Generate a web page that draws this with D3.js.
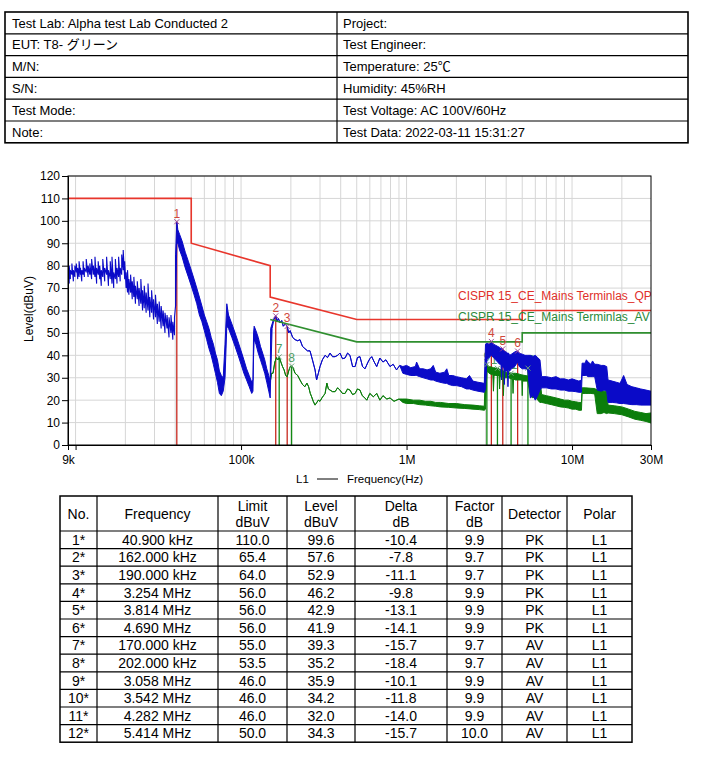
<!DOCTYPE html>
<html>
<head>
<meta charset="utf-8">
<script src="https://cdn.jsdelivr.net/npm/d3@7"></script>
<style>
  body { margin: 0; background: #fff; }
  text { font-family: "Liberation Sans", Arial, "Noto Sans CJK JP", sans-serif; fill: #000; }
</style>
</head>
<body>
<svg id="page" width="703" height="763"></svg>
<script>
'use strict';

// header block
var infoLeft = ["Test Lab: Alpha test Lab Conducted 2", "EUT: T8- グリーン", "M/N:", "S/N:", "Test Mode:", "Note:"];
var infoRight = ["Project:", "Test Engineer:", "Temperature: 25℃", "Humidity: 45%RH", "Test Voltage: AC 100V/60Hz", "Test Data: 2022-03-11 15:31:27"];

// axis ticks
var yTicks = [0, 10, 20, 30, 40, 50, 60, 70, 80, 90, 100, 110, 120];
var xTicks = [9e3, 1e4, 1e5, 1e6, 1e7, 3e7];
var xTickLabels = ["9k", "", "100k", "1M", "10M", "30M"];

// limit lines [Hz, dBuV]
var qpLimit = [[9e3, 110], [50e3, 110], [50e3, 90], [150e3, 80], [150e3, 66], [500e3, 56], [5e6, 56], [5e6, 60], [30e6, 60]];
var avLimit = [[150e3, 56], [500e3, 46], [5e6, 46], [5e6, 50], [30e6, 50]];
var limitNames = ["CISPR 15_CE_Mains Terminlas_QP", "CISPR 15_CE_Mains Terminlas_AV"];

// peak trace, [kHz, min, max] per column
var pkTrace = [
  [9.0, 75, 79], [9.15, 72, 80], [9.3, 74, 78], [9.5, 76, 81], [9.7, 73, 78], [9.9, 75, 80], [10.1, 77, 81],
  [10.3, 74, 79], [10.5, 75, 82], [10.7, 76, 79], [10.9, 73, 78], [11.1, 76, 82], [11.3, 75, 79], [11.6, 77, 83],
  [11.9, 75, 80], [12.2, 76, 81], [12.5, 74, 83], [12.8, 76, 80], [13.1, 75, 84], [13.4, 72, 79], [13.7, 76, 82],
  [14.0, 74, 80], [14.3, 71, 78], [14.6, 75, 83], [15.0, 73, 79], [15.4, 76, 84], [15.8, 71, 78], [16.2, 74, 82],
  [16.6, 72, 84], [17.0, 70, 77], [17.4, 74, 83], [17.8, 72, 79], [18.2, 75, 84], [18.6, 73, 79], [19.0, 76, 85],
  [19.4, 78, 87], [19.8, 74, 82], [20.2, 70, 77], [20.6, 68, 78], [21.0, 67, 74], [21.5, 68, 76], [22.0, 65, 73],
  [22.5, 66, 75], [23.0, 63, 71], [23.6, 65, 73], [24.2, 62, 70], [24.8, 63, 74], [25.4, 60, 69], [26.0, 61, 71],
  [26.7, 59, 68], [27.4, 60, 72], [28.1, 57, 66], [28.8, 59, 69], [29.6, 56, 65], [30.4, 57, 67], [31.2, 54, 63],
  [32.0, 55, 64], [32.9, 52, 62], [33.8, 53, 60], [34.7, 50, 59], [35.7, 52, 58], [36.7, 48, 57], [37.7, 50, 58],
  [38.7, 47, 55], [39.6, 49, 57], [40.2, 62, 85], [40.9, 90, 99.6], [41.5, 90, 96],
  [42.5, 87, 94], [44, 84, 91], [46, 79, 86], [48, 75, 82], [50, 71, 78], [52, 67, 74], [54, 63, 70], [56, 58, 66],
  [58, 55, 62], [60, 51, 58], [62, 47, 55], [64, 43, 52], [66, 40, 48], [68, 36, 45], [70, 32, 41], [72, 28, 38],
  [74, 23, 33], [76, 22, 31], [78, 24, 30], [80, 30, 45], [82, 53, 63], [84, 52, 58], [88, 48, 54], [92, 44, 50],
  [96, 40, 46], [100, 36, 42], [104, 32, 38], [108, 29, 34], [112, 26, 31], [116, 23, 28], [118, 24, 29],
  [119, 40, 50], [120, 47, 53], [123, 45, 51], [127, 41, 48], [131, 38, 44], [135, 35, 41], [139, 32, 38],
  [143, 28, 34], [147, 24, 31], [150, 21, 28], [151, 30, 52], [154, 52, 54], [157, 55, 56], [160, 57, 57],
  [162, 57.6, 57.6], [165, 55, 55], [168, 56.5, 56.5], [172, 54.5, 54.5], [176, 55.5, 55.5], [180, 53, 53],
  [185, 54, 54], [190, 52.9, 52.9], [194, 50, 50], [198, 51, 51], [205, 48, 48], [212, 47, 47], [220, 46.5, 46.5],
  [227, 47, 47], [235, 44, 44], [243, 43, 43], [252, 42, 42], [261, 42, 42], [270, 38, 38], [280, 33.5, 33.5],
  [286, 29, 29], [293, 32, 32], [300, 35, 35], [310, 38, 38], [322, 40, 40], [333, 39, 39], [345, 41, 41],
  [357, 39.4, 39.4], [370, 39.4, 39.4], [383, 40, 40], [396, 41, 41], [410, 38.5, 38.5], [425, 38.8, 38.8],
  [440, 41, 41], [455, 40, 40], [472, 35, 35], [489, 35, 35], [505, 39, 39], [523, 39.4, 39.4], [542, 35, 35],
  [561, 34, 34], [585, 37, 37], [600, 38.5, 38.5], [616, 39.4, 39.4], [638, 37, 37], [660, 35, 35], [690, 38.8, 38.8],
  [720, 37, 37], [750, 38, 38], [794, 35, 35], [830, 36, 36], [870, 33.5, 33.5], [910, 35.5, 35.5], [950, 32, 35],
  [1000, 31.5, 35.5], [1060, 31, 34.5], [1130, 31, 35], [1150, 31, 37], [1200, 30.5, 34], [1260, 30, 34],
  [1330, 29.5, 33.5], [1400, 29, 34], [1450, 29, 35.5], [1500, 28.5, 32.5], [1590, 28, 32], [1700, 27.5, 32.5],
  [1750, 27.5, 34], [1800, 27, 31], [1900, 26.5, 31], [2000, 26.5, 30.5], [2150, 26, 30], [2300, 25, 29.5],
  [2400, 25, 31], [2520, 24.5, 28.5], [2700, 24, 28], [2950, 23.5, 27.5],
  [3000, 25, 45], [3060, 38, 45.5], [3150, 39, 45], [3254, 40, 46.2], [3350, 39, 45], [3450, 38, 44.5],
  [3550, 37, 44], [3650, 36, 43.5], [3720, 36, 43], [3750, 29, 43], [3780, 35, 43], [3814, 35, 42.9],
  [3880, 34, 42], [3900, 27, 42], [3930, 33, 41.8], [4000, 33, 41.5], [4070, 33, 41], [4100, 26, 41],
  [4130, 33, 41], [4200, 33, 40], [4300, 34, 40.5], [4400, 34.5, 41], [4500, 35, 41.5], [4600, 36, 41.8],
  [4690, 37, 41.9], [4800, 35, 41], [5000, 34, 40.5], [5200, 34, 40], [5400, 33.5, 40], [5600, 21, 40],
  [5800, 22, 39.5], [6000, 20, 40], [6200, 22, 39], [6400, 24.5, 38], [6550, 25.5, 30.5], [7000, 25.5, 30.5],
  [7500, 25, 30], [8000, 25, 30.5], [8500, 24.5, 29.5], [9000, 24.5, 29.5], [9500, 24, 29], [10000, 24, 29.5],
  [10500, 23.8, 29], [11000, 23.5, 28.5], [11400, 23.5, 29], [11500, 31, 36.5], [12000, 31, 36.5],
  [12200, 31, 38], [12500, 30.5, 37], [13000, 30.5, 36], [13300, 30.5, 37.5], [13700, 30.5, 36], [14200, 24.5, 36],
  [15000, 24, 35.5], [15600, 24.5, 35.5], [16200, 24, 35], [16500, 19, 29], [17500, 19, 28.5], [18500, 18.8, 28],
  [19500, 18.5, 27.5], [20500, 18.5, 31], [21500, 18.3, 27], [23000, 18, 26], [24500, 18, 25.5], [26000, 17.8, 25],
  [28000, 17.8, 24.5], [30000, 17.8, 24]
];

// average trace, [kHz, min, max]
var avTrace = [
  [150, 28, 28], [153, 32, 32], [156, 32, 32], [160, 37, 37], [164, 39, 39], [167, 38, 38], [170, 39.3, 39.3],
  [174, 37, 37], [178, 35, 35], [182, 33.5, 33.5], [186, 31, 31], [190, 30.5, 30.5], [194, 33, 33], [198, 35, 35],
  [202, 35.2, 35.2], [206, 34.5, 34.5], [212, 32, 32], [220, 31, 31], [227, 29, 29], [235, 27, 27], [243, 26, 26],
  [250, 27.6, 27.6], [256, 26, 26], [262, 23, 23], [267, 21.5, 21.5], [273, 19.5, 19.5], [280, 17.8, 17.8],
  [287, 19, 19], [293, 20, 20], [300, 19.5, 19.5], [308, 21, 21], [315, 22, 22], [322, 23, 23], [330, 27.6, 27.6],
  [337, 25, 25], [345, 24.5, 24.5], [357, 23.8, 23.8], [370, 23.8, 23.8], [383, 25.5, 25.5], [396, 24.5, 24.5],
  [410, 23, 23], [425, 23, 23], [440, 25, 25], [455, 24.5, 24.5], [472, 22.5, 22.5], [489, 23, 23], [505, 25, 25],
  [523, 24.5, 24.5], [540, 22, 22], [560, 21, 21], [575, 20, 20], [600, 23, 23], [630, 21.5, 21.5], [660, 23, 23],
  [690, 20, 20], [720, 22, 22], [760, 20.5, 20.5], [794, 21, 21], [840, 19.5, 19.5], [900, 20.5, 20.5],
  [950, 19, 20.5], [1000, 18.5, 20.5], [1100, 18.5, 20], [1200, 18, 20], [1300, 17.8, 19.5], [1400, 17.5, 19.5],
  [1500, 17.3, 19], [1600, 17, 19], [1800, 16.8, 18.5], [2000, 16.5, 18.5], [2250, 16.3, 18], [2520, 16, 17.8],
  [2750, 15.8, 17.5], [2950, 15.5, 17.3], [3000, 16, 35], [3058, 33, 35.9], [3150, 32, 35], [3250, 31.5, 34.8],
  [3320, 31.5, 34.6], [3350, 24, 34.5], [3380, 31, 34.5], [3450, 31, 34.3], [3542, 31, 34.2], [3620, 31, 34],
  [3650, 25, 33.8], [3680, 30.5, 33.7], [3750, 30.5, 33.5], [3820, 30.5, 33.2], [3850, 22, 33], [3880, 30, 33],
  [4000, 30, 32.5], [4150, 30, 32.2], [4282, 29.5, 32], [4370, 29.5, 32], [4400, 23, 32], [4430, 29.5, 32],
  [4550, 29, 32], [4700, 29, 31.8], [4850, 29, 31.5], [4970, 29, 31.3], [5000, 22, 31.3], [5030, 28.5, 31.2],
  [5200, 28.5, 31], [5400, 28.5, 30.8], [5600, 22, 30.5], [5800, 21, 30.5], [6000, 22, 30], [6200, 20, 30],
  [6400, 19, 29.5], [6550, 19, 22.5], [7000, 18.5, 22], [7500, 18, 21.5], [8000, 17.5, 21], [8500, 17, 20.5],
  [9000, 16.8, 20], [9500, 16.5, 20], [10000, 16, 19.5], [10500, 16, 19.3], [11000, 15.5, 19], [11400, 15.5, 19],
  [11500, 23, 25.5], [12000, 23, 25.5], [12500, 23, 25.4], [13000, 23, 25.3], [13700, 22.8, 25.2], [14200, 14, 24.5],
  [15000, 14, 24.5], [15600, 14.5, 24], [16200, 14, 24], [16500, 14.3, 17.8], [18000, 14, 17.5], [20000, 13.5, 17],
  [22000, 12.5, 16], [24000, 11.5, 15], [26000, 11, 14.5], [28000, 10.5, 14], [30000, 9.8, 14.3]
];

// final measurement table
var tableHeads = [["No."], ["Frequency"], ["Limit", "dBuV"], ["Level", "dBuV"], ["Delta", "dB"], ["Factor", "dB"], ["Detector"], ["Polar"]];
var markerNo = ["1*", "2*", "3*", "4*", "5*", "6*", "7*", "8*", "9*", "10*", "11*", "12*"];
var markerFreq = [40.9e3, 162e3, 190e3, 3.254e6, 3.814e6, 4.69e6, 170e3, 202e3, 3.058e6, 3.542e6, 4.282e6, 5.414e6];
var markerLimit = [110.0, 65.4, 64.0, 56.0, 56.0, 56.0, 55.0, 53.5, 46.0, 46.0, 46.0, 50.0];
var markerLevel = [99.6, 57.6, 52.9, 46.2, 42.9, 41.9, 39.3, 35.2, 35.9, 34.2, 32.0, 34.3];
var markerDelta = [-10.4, -7.8, -11.1, -9.8, -13.1, -14.1, -15.7, -18.4, -10.1, -11.8, -14.0, -15.7];
var markerFactor = [9.9, 9.7, 9.7, 9.9, 9.9, 9.9, 9.7, 9.7, 9.9, 9.9, 9.9, 10.0];
var markerDetector = ["PK", "PK", "PK", "PK", "PK", "PK", "AV", "AV", "AV", "AV", "AV", "AV"];
var markerPolar = ["L1", "L1", "L1", "L1", "L1", "L1", "L1", "L1", "L1", "L1", "L1", "L1"];

var svg = d3.select("#page");

drawInfo();
drawChart();
drawTable();


function drawInfo() {
    var left = 5, mid = 337, right = 688, top = 12, rowH = 21.8;
    var g = svg.append("g");

    g.selectAll("text.l")
     .data(infoLeft)
     .enter().append("text")
     .attr("x", left + 7)
     .attr("y", (d, i) => top + i * rowH + 15.5)
     .attr("font-size", 13)
     .text(d => d);

    g.selectAll("text.r")
     .data(infoRight)
     .enter().append("text")
     .attr("x", mid + 6)
     .attr("y", (d, i) => top + i * rowH + 15.5)
     .attr("font-size", 13)
     .text(d => d);

    // row lines
    g.selectAll("line.row")
     .data(d3.range(1, infoLeft.length))
     .enter().append("line")
     .attr("x1", left).attr("x2", right)
     .attr("y1", i => top + i * rowH).attr("y2", i => top + i * rowH)
     .attr("stroke", "#000").attr("stroke-width", 1.2);

    g.append("line")
     .attr("x1", mid).attr("x2", mid)
     .attr("y1", top).attr("y2", top + infoLeft.length * rowH)
     .attr("stroke", "#000").attr("stroke-width", 1.2);

    g.append("rect")
     .attr("x", left).attr("y", top)
     .attr("width", right - left).attr("height", infoLeft.length * rowH)
     .attr("fill", "none").attr("stroke", "#000").attr("stroke-width", 1.6);
}


function drawChart() {
    var x = d3.scaleLog().domain([9e3, 30e6]).range([68, 651]);
    var y = d3.scaleLinear().domain([0, 120]).range([445, 176]);
    var g = svg.append("g");

    g.append("clipPath").attr("id", "plotclip")
     .append("rect")
     .attr("x", 68).attr("y", 176).attr("width", 583).attr("height", 269);

    // log grid
    var gridX = [];
    [1e4, 1e5, 1e6, 1e7].forEach(dec => d3.range(1, 10).forEach(m => {
        if (m * dec < 30e6) gridX.push(m * dec);
    }));
    g.selectAll("line.gx")
     .data(gridX)
     .enter().append("line")
     .attr("x1", d => x(d)).attr("x2", d => x(d))
     .attr("y1", 176).attr("y2", 445)
     .attr("stroke", "#d6d6d6").attr("stroke-width", 1);

    g.selectAll("line.gy")
     .data(yTicks.slice(1))
     .enter().append("line")
     .attr("x1", 68).attr("x2", 651)
     .attr("y1", d => y(d)).attr("y2", d => y(d))
     .attr("stroke", "#d6d6d6").attr("stroke-width", 1);

    var line = d3.line().x(p => x(p[0])).y(p => y(p[1]));
    var band = d3.area()
                 .x(d => x(d[0] * 1e3))
                 .y0(d => y(d[1]))
                 .y1(d => y(d[2]));
    var plot = g.append("g").attr("clip-path", "url(#plotclip)");

    // marker drop lines and AV marker labels sit under the traces
    var markers = markerFreq.map((f, i) => ({f: f, level: markerLevel[i], n: i + 1, pk: markerDetector[i] == "PK"}));

    plot.selectAll("line.drop")
        .data(markers)
        .enter().append("line")
        .attr("x1", d => x(d.f)).attr("x2", d => x(d.f))
        .attr("y1", d => y(d.level)).attr("y2", y(0))
        .attr("stroke", d => d.pk ? "#c8281e" : "#138a13")
        .attr("stroke-width", 1.3);

    plot.selectAll("text.avlab")
        .data(markers.filter(d => !d.pk))
        .enter().append("text")
        .attr("x", d => x(d.f))
        .attr("y", d => y(d.level) - 4)
        .attr("text-anchor", "middle")
        .attr("font-size", 12)
        .style("fill", "#4e9e62")
        .text(d => d.n);

    // the low band is a spiky line (min -> max per column), the rest a filled min/max band
    function columns(trace) {
        var pts = [];
        trace.forEach(d => { pts.push([d[0] * 1e3, d[1]]); pts.push([d[0] * 1e3, d[2]]); });
        return pts;
    }
    var spikyEnd = 40.2;

    plot.append("path")
        .attr("d", band(avTrace))
        .attr("fill", "#0b7d0b").attr("stroke", "#0b7d0b").attr("stroke-width", 1)
        .attr("stroke-linejoin", "round");

    plot.append("path")
        .attr("d", line(columns(pkTrace.filter(d => d[0] <= spikyEnd))))
        .attr("fill", "none").attr("stroke", "#0a0ac8").attr("stroke-width", 1.1);

    plot.append("path")
        .attr("d", band(pkTrace.filter(d => d[0] >= spikyEnd)))
        .attr("fill", "#0a0ac8").attr("stroke", "#0a0ac8").attr("stroke-width", 1)
        .attr("stroke-linejoin", "round");

    // limits
    plot.append("path")
        .attr("d", line(qpLimit))
        .attr("fill", "none").attr("stroke", "#e8362c").attr("stroke-width", 1.6);
    plot.append("path")
        .attr("d", line(avLimit))
        .attr("fill", "none").attr("stroke", "#2f8f2f").attr("stroke-width", 1.6);

    plot.selectAll("text.lim")
        .data(limitNames)
        .enter().append("text")
        .attr("x", 458)
        .attr("y", (d, i) => 300 + i * 21)
        .attr("font-size", 12)
        .style("fill", (d, i) => i == 0 ? "#e0302a" : "#2a8a3a")
        .text(d => d);

    // PK marker labels and all the x marks on top
    plot.selectAll("text.pklab")
        .data(markers.filter(d => d.pk))
        .enter().append("text")
        .attr("x", d => x(d.f))
        .attr("y", d => y(d.level) - 4)
        .attr("text-anchor", "middle")
        .attr("font-size", 12)
        .style("fill", "#d0483c")
        .text(d => d.n);

    plot.selectAll("path.xm")
        .data(markers)
        .enter().append("path")
        .attr("d", d => {
            var cx = x(d.f), cy = y(d.level), s = 2.5;
            return "M" + (cx - s) + "," + (cy - s) + "L" + (cx + s) + "," + (cy + s) +
                   "M" + (cx - s) + "," + (cy + s) + "L" + (cx + s) + "," + (cy - s);
        })
        .attr("stroke", d => d.pk ? "#a04a9a" : "#6aa27a")
        .attr("stroke-width", 1);

    // frame and axes
    g.append("rect")
     .attr("x", 68).attr("y", 176).attr("width", 583).attr("height", 269)
     .attr("fill", "none").attr("stroke", "#000").attr("stroke-width", 1);

    var yAxis = g.append("g")
                 .attr("transform", "translate(68,0)")
                 .call(d3.axisLeft(y).tickValues(yTicks).tickSize(6).tickPadding(2));
    var xAxis = g.append("g")
                 .attr("transform", "translate(0,445)")
                 .call(d3.axisBottom(x).tickValues(xTicks).tickSize(5).tickPadding(5)
                                       .tickFormat((d, i) => xTickLabels[i]));
    [yAxis, xAxis].forEach(a => {
        a.attr("font-family", null).attr("font-size", null);
        a.selectAll("text").attr("font-size", 12).style("fill", "#000");
        a.selectAll("line, path").attr("stroke", "#000");
    });

    g.append("text")
     .attr("transform", "translate(33,309) rotate(-90)")
     .attr("text-anchor", "middle")
     .attr("font-size", 12)
     .text("Level(dBuV)");

    g.append("text").attr("x", 296).attr("y", 483).attr("font-size", 11.5).text("L1");
    g.append("line")
     .attr("x1", 317).attr("x2", 338).attr("y1", 479).attr("y2", 479)
     .attr("stroke", "#000").attr("stroke-width", 1);
    g.append("text").attr("x", 347).attr("y", 483).attr("font-size", 11.5).text("Frequency(Hz)");
}


function formatFreq(f) {
    return f < 1e6 ? (f / 1e3).toFixed(3) + " kHz" : (f / 1e6).toFixed(3) + " MHz";
}

function drawTable() {
    var cols = [60, 97, 218, 287, 355, 447, 502, 567, 632];
    var top = 496, headBottom = 531, rowH = 17.6;
    var bottom = headBottom + markerNo.length * rowH;
    var g = svg.append("g");

    var rows = markerNo.map((n, i) => [n, formatFreq(markerFreq[i]), markerLimit[i].toFixed(1),
                                       markerLevel[i].toFixed(1), markerDelta[i].toFixed(1),
                                       markerFactor[i].toFixed(1), markerDetector[i], markerPolar[i]]);

    // header
    tableHeads.forEach((h, c) => {
        var cx = (cols[c] + cols[c + 1]) / 2;
        h.forEach((t, k) => {
            g.append("text")
             .attr("x", cx)
             .attr("y", h.length == 1 ? 519 : 511 + k * 16)
             .attr("text-anchor", "middle")
             .attr("font-size", 14)
             .text(t);
        });
    });

    rows.forEach((r, i) => {
        r.forEach((t, c) => {
            g.append("text")
             .attr("x", (cols[c] + cols[c + 1]) / 2)
             .attr("y", headBottom + i * rowH + 13.8)
             .attr("text-anchor", "middle")
             .attr("font-size", 14)
             .text(t);
        });
    });

    g.selectAll("line.hr")
     .data([headBottom].concat(d3.range(1, rows.length).map(i => headBottom + i * rowH)))
     .enter().append("line")
     .attr("x1", cols[0]).attr("x2", cols[cols.length - 1])
     .attr("y1", d => d).attr("y2", d => d)
     .attr("stroke", "#000").attr("stroke-width", 1.2);

    g.selectAll("line.vr")
     .data(cols.slice(1, -1))
     .enter().append("line")
     .attr("x1", d => d).attr("x2", d => d)
     .attr("y1", top).attr("y2", bottom)
     .attr("stroke", "#000").attr("stroke-width", 1.2);

    g.append("rect")
     .attr("x", cols[0]).attr("y", top)
     .attr("width", cols[cols.length - 1] - cols[0]).attr("height", bottom - top)
     .attr("fill", "none").attr("stroke", "#000").attr("stroke-width", 1.5);
}
</script>
</body>
</html>
